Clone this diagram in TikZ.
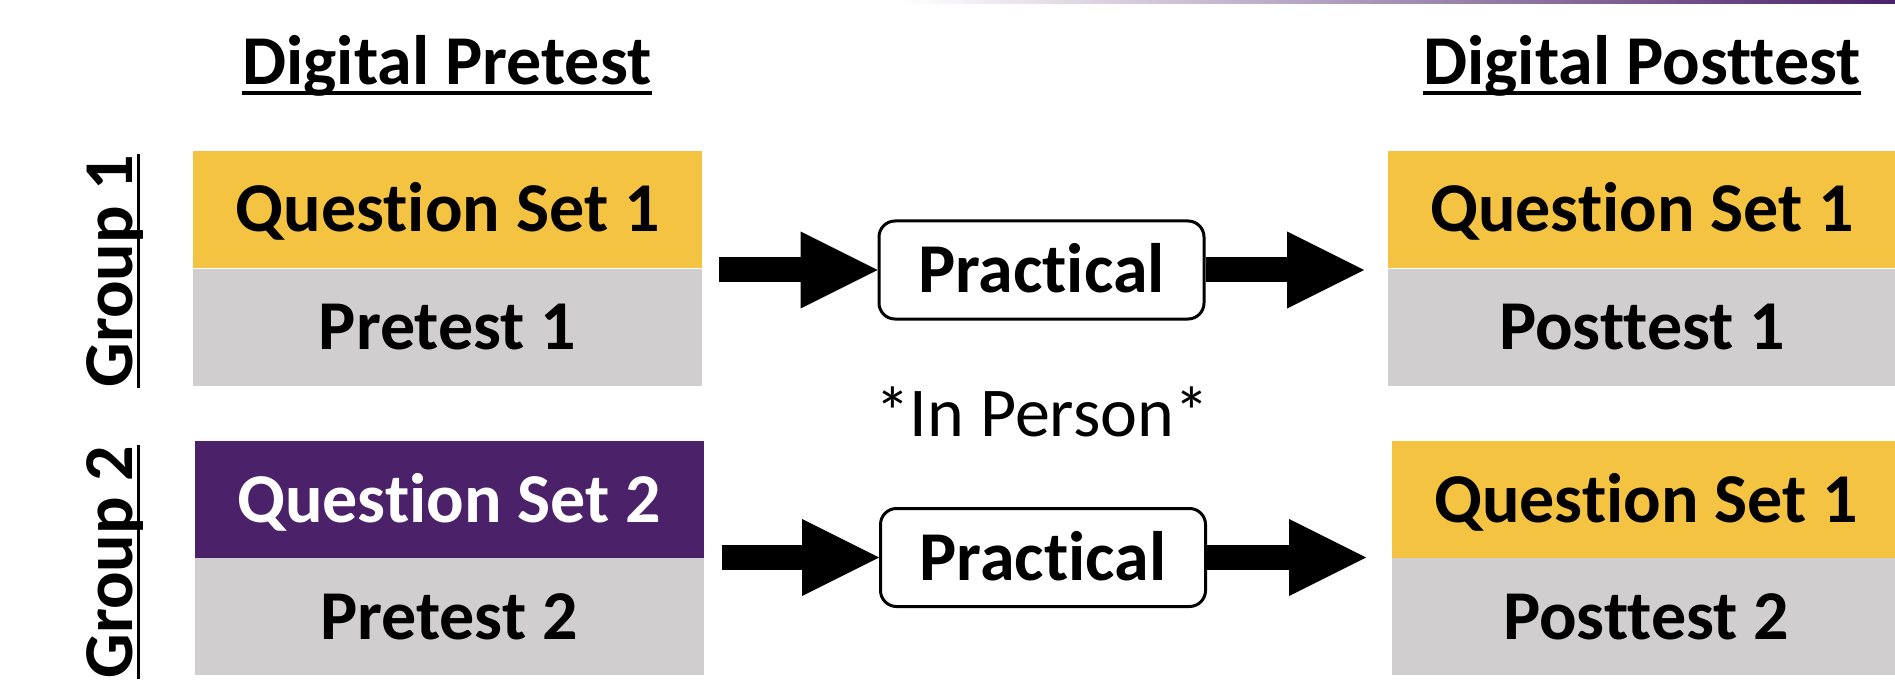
\documentclass[tikz,border=0pt]{standalone}
\usepackage{fontspec}
\setmainfont{Carlito}[Ligatures={NoCommon}]
\usetikzlibrary{arrows.meta,calc}
\definecolor{qyellow}{HTML}{F5C342}
\definecolor{qgrey}{HTML}{D0CECE}
\definecolor{qpurple}{HTML}{4B216A}
\begin{document}
\begin{tikzpicture}[x=0.5pt,y=-0.5pt,
  bigfont/.style={font=\fontsize{35}{42}\selectfont\bfseries},
  txt/.style={bigfont, inner sep=0pt},
  cell/.style={bigfont, inner sep=0pt, minimum width=254.5pt, minimum height=58.75pt,
    text height=22.5pt, text depth=0pt},
  qcell/.style={cell, fill=qyellow, text=black},
  pcell/.style={cell, fill=qpurple, text=white},
  gcell/.style={cell, fill=qgrey, text=black},
  prac/.style={bigfont, draw=black, line width=1.5pt, fill=white, rounded corners=8pt,
    minimum width=162.5pt, minimum height=49pt, inner sep=0pt, text height=22.5pt, text depth=0pt},
  arr/.style={line width=12.5pt, -{Triangle[length=38.5pt,width=38.5pt,line width=0pt]}},
  uline/.style={line width=2pt}
]
\useasboundingbox (0,0) rectangle (1895,684);
\clip (0,0) rectangle (1895,684);

% top gradient line
\shade[left color=white, right color=qpurple] (900,0) rectangle (1895,4);

% titles
\node[txt, anchor=base] (tpre) at (447,85) {Digital Pretest};
\node[txt, anchor=base] (tpost) at (1642,85) {Digital Posttest};
\draw[uline] ([yshift=-4pt]tpre.base west) -- ([yshift=-4pt]tpre.base east);
\draw[uline] ([yshift=-4pt]tpost.base west) -- ([yshift=-4pt]tpost.base east);

% group labels
\node[txt, rotate=90, anchor=base] (g1) at (132,271) {Group 1};
\node[txt, rotate=90, anchor=base] (g2) at (132,562) {Group 2};
\draw[line width=1.5pt] ([xshift=3pt]g1.base west) -- ([xshift=3pt]g1.base east);
\draw[line width=1.5pt] ([xshift=3pt]g2.base west) -- ([xshift=3pt]g2.base east);

% left boxes
\node[qcell] (q1l) at (447.5,209.5) {Question Set 1};
\node[gcell] (p1l) at (447.5,327.5) {Pretest 1};
\node[pcell] (q2l) at (449,499.5) {Question Set 2};
\node[gcell] (p2l) at (449,616.5) {Pretest 2};

% right boxes
\node[qcell] (q1r) at (1642,209.5) {Question Set 1};
\node[gcell] (p1r) at (1642,327.5) {Posttest 1};
\node[qcell] (q2r) at (1646,499.5) {Question Set 1};
\node[gcell] (p2r) at (1646,616.5) {Posttest 2};

% practical boxes
\node[prac] (pr1) at (1041.5,270) {Practical};
\node[prac] (pr2) at (1043,557.5) {Practical};

% arrows
\coordinate (a1s) at (719,270);
\coordinate (a1e) at (1364,270);
\coordinate (a2s) at (722,557.5);
\coordinate (a2e) at (1366,557.5);
\draw[arr] (a1s) -- (pr1.west);
\draw[arr] (pr1.east) -- (a1e);
\draw[arr] (a2s) -- (pr2.west);
\draw[arr] (pr2.east) -- (a2e);

% in person
\node[inner sep=0pt, font=\fontsize{35}{42}\selectfont, text height=22.5pt, text depth=0pt] (inp) at (1042,414) {*In Person*};
\end{tikzpicture}
\end{document}
